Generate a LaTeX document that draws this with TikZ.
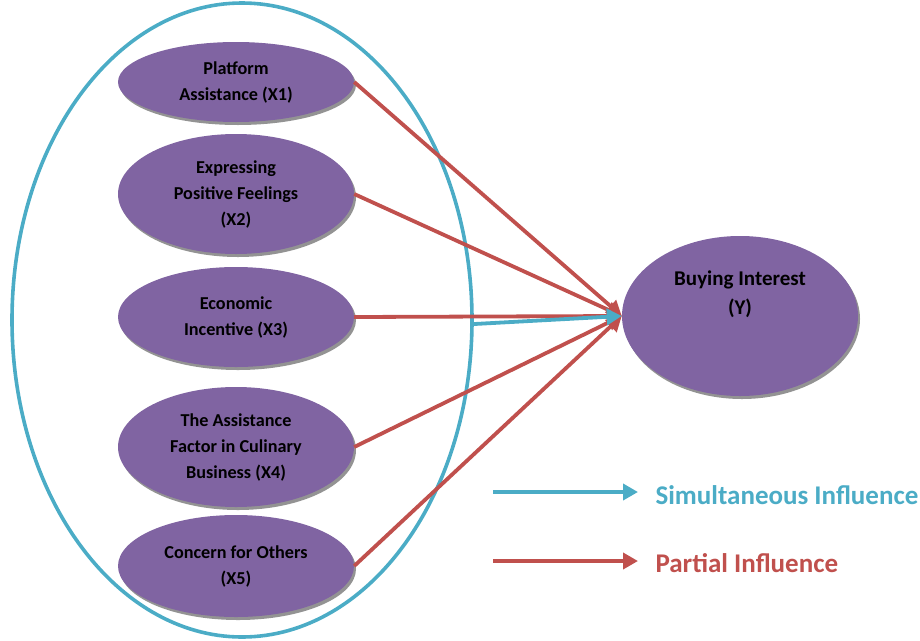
\documentclass[tikz,border=0pt]{standalone}
\usepackage{fontspec}
\setmainfont{Carlito}
\usetikzlibrary{shapes.geometric,arrows.meta,shadows}
\definecolor{purp}{HTML}{8064A2}
\definecolor{bluec}{HTML}{4BACC6}
\definecolor{redc}{HTML}{C0504D}
\tikzset{
  var/.style={ellipse, fill=purp, minimum width=236pt, minimum height=#1, inner sep=0pt,
    align=center, font=\fontsize{18.2}{26}\selectfont\bfseries, text=black,
    drop shadow={shadow xshift=2pt, shadow yshift=-3pt, fill=gray!85, opacity=1}},
  partial/.style={draw=redc, line width=3.8pt, -{Triangle[length=15pt,width=16pt]}},
  simult/.style={draw=bluec, line width=3.8pt, -{Triangle[length=15pt,width=16pt]}},
  legtext/.style={anchor=west, font=\fontsize{27}{30}\selectfont\bfseries}
}
\begin{document}
\begin{tikzpicture}[x=1pt,y=-1pt]
\useasboundingbox (0,0) rectangle (920,640);
\node[ellipse, draw=bluec, line width=3.6pt, minimum width=460pt, minimum height=634pt, inner sep=0pt] (grp) at (242,320) {};
\node[var=80pt] (x1) at (236,82) {Platform\\Assistance (X1)};
\node[var=120pt] (x2) at (236,194) {Expressing\\Positive Feelings\\(X2)};
\node[var=100pt] (x3) at (236,317) {Economic\\Incentive (X3)};
\node[var=120pt] (x4) at (236,447) {The Assistance\\Factor in Culinary\\Business (X4)};
\node[var=102pt] (x5) at (236,566) {Concern for Others\\(X5)};
\node[ellipse, fill=purp, minimum width=236pt, minimum height=160pt, inner sep=0pt,
  drop shadow={shadow xshift=2pt, shadow yshift=-3pt, fill=gray!85, opacity=1}] (y) at (740,316) {};
\node[align=center, font=\fontsize{21}{29}\selectfont\bfseries, text=black] (ylab) at (740,294) {Buying Interest\\(Y)};
\draw[partial] (x1.east) -- (y.west);
\draw[partial] (x2.east) -- (y.west);
\draw[partial] (x3.east) -- (y.west);
\draw[partial] (x4.east) -- (y.west);
\draw[partial] (x5.east) -- (y.west);
\draw[simult] (grp.-1.6) -- (y.west);
\coordinate (l1a) at (493,492);
\coordinate (l1b) at (638,492);
\coordinate (l2a) at (493,561);
\coordinate (l2b) at (638,561);
\draw[simult] (l1a) -- (l1b);
\draw[partial] (l2a) -- (l2b);
\node[legtext, text=bluec] (t1) at (652,495) {Simultaneous Influence};
\node[legtext, text=redc] (t2) at (652,563) {Partial Influence};
\end{tikzpicture}
\end{document}
